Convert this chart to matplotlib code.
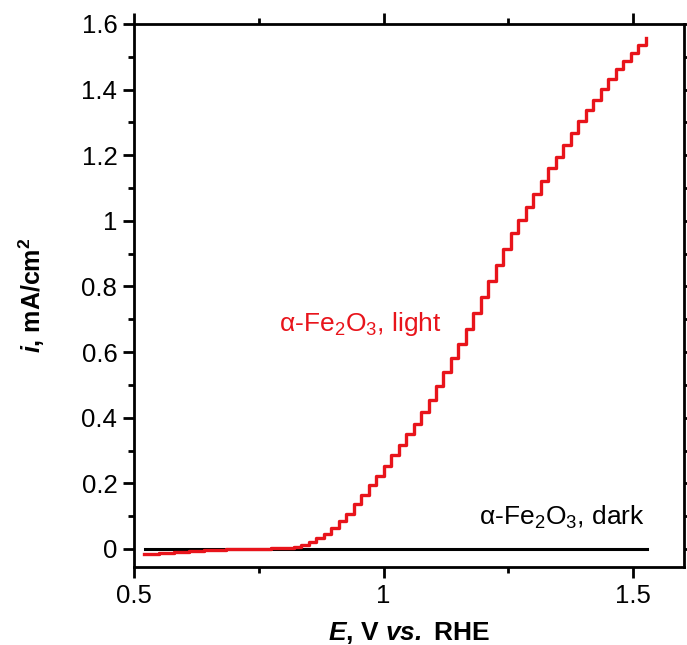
import matplotlib
matplotlib.use('Agg')
import matplotlib.pyplot as plt
from matplotlib.ticker import MultipleLocator, FormatStrFormatter

plt.rcParams['font.family'] = ['Liberation Sans', 'DejaVu Sans']
plt.rcParams['mathtext.fontset'] = 'custom'
plt.rcParams['mathtext.rm'] = 'Liberation Sans'
plt.rcParams['mathtext.it'] = 'Liberation Sans:italic'
plt.rcParams['mathtext.bf'] = 'Liberation Sans:bold'
plt.rcParams['mathtext.bfit'] = 'Liberation Sans:italic:bold'

# photocurrent under illumination
E_light = [0.520, 0.535, 0.550, 0.565, 0.580, 0.595, 0.610, 0.625, 0.640, 0.655,
           0.670, 0.685, 0.700, 0.715, 0.730, 0.745, 0.760, 0.775, 0.790, 0.805,
           0.820, 0.835, 0.850, 0.865, 0.880, 0.895, 0.910, 0.925, 0.940, 0.955,
           0.970, 0.985, 1.000, 1.015, 1.030, 1.045, 1.060, 1.075, 1.090, 1.105,
           1.120, 1.135, 1.150, 1.165, 1.180, 1.195, 1.210, 1.225, 1.240, 1.255,
           1.270, 1.285, 1.300, 1.315, 1.330, 1.345, 1.360, 1.375, 1.390, 1.405,
           1.420, 1.435, 1.450, 1.465, 1.480, 1.495, 1.510, 1.525]
i_light = [-0.016, -0.0145, -0.013, -0.0115, -0.010, -0.0085, -0.007, -0.0055, -0.004, -0.003,
           -0.002, -0.001, 0.000, 0.0003, 0.0007, 0.001, 0.0013, 0.0017, 0.002, 0.004,
           0.007, 0.013, 0.020, 0.032, 0.045, 0.064, 0.084, 0.106, 0.136, 0.165,
           0.194, 0.223, 0.254, 0.285, 0.317, 0.349, 0.382, 0.418, 0.454, 0.496,
           0.538, 0.582, 0.625, 0.671, 0.718, 0.767, 0.818, 0.867, 0.915, 0.963,
           1.004, 1.043, 1.083, 1.122, 1.160, 1.196, 1.232, 1.268, 1.304, 1.337,
           1.369, 1.401, 1.433, 1.462, 1.488, 1.512, 1.535, 1.556]

# dark current
E_dark = [0.522, 0.8, 1.2, 1.528]
i_dark = [0.0, 0.0, 0.0, 0.0]

xticks = [0.5, 1.0, 1.5]
yticks = [0, 0.2, 0.4, 0.6, 0.8, 1.0, 1.2, 1.4, 1.6]

fig = plt.figure(figsize=(6.87, 6.45), dpi=100)
ax = fig.add_axes([0.1951, 0.1209, 0.8006, 0.8419])

ax.plot(E_dark, i_dark, color='black', lw=2.2)
ax.plot(E_light, i_light, color='#e8141b', lw=2.4, drawstyle='steps-post')

ax.text(0.79, 0.665, 'α-Fe$_2$O$_3$, light', color='#e8141b', fontsize=19,
        ha='left', va='baseline')
ax.text(1.191, 0.073, 'α-Fe$_2$O$_3$, dark', color='black', fontsize=19,
        ha='left', va='baseline')

ax.set_xlim(0.5, 1.602)
ax.set_ylim(-0.055, 1.6)
ax.set_xticks(xticks)
ax.set_yticks(yticks)
ax.xaxis.set_major_formatter(FormatStrFormatter('%g'))
ax.yaxis.set_major_formatter(FormatStrFormatter('%g'))
ax.xaxis.set_minor_locator(MultipleLocator(0.25))
ax.yaxis.set_minor_locator(MultipleLocator(0.1))

for s in ax.spines.values():
    s.set_linewidth(2.0)
ax.tick_params(which='both', direction='out', width=2.0, top=True, right=True,
               labelsize=18.5, pad=4)
ax.tick_params(which='major', length=8)
ax.tick_params(which='minor', length=4)

ax.set_xlabel(r'$\mathbfit{E}$, V $\mathbfit{vs.}$ RHE', fontsize=19,
              fontweight='bold', labelpad=9)
ax.set_ylabel(r'$\mathbfit{i}$, mA/cm$^{\mathbf{2}}$', fontsize=18,
              fontweight='bold', labelpad=25)

fig.savefig('out.png', dpi=100)
